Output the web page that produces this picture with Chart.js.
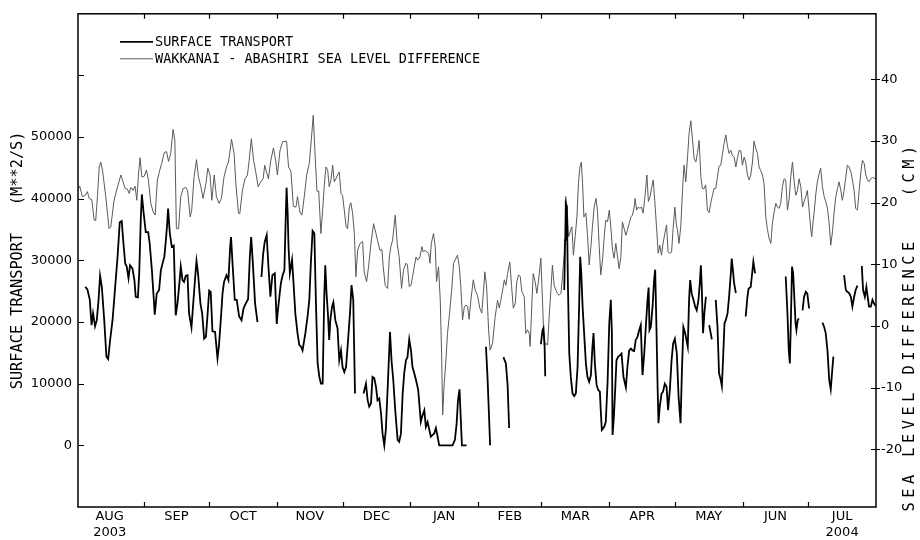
<!DOCTYPE html>
<html><head><meta charset="utf-8">
<script src="https://cdn.jsdelivr.net/npm/chart.js@4/dist/chart.umd.min.js"></script>
<style>html,body{margin:0;padding:0;background:#fff}#wrap{position:relative;width:920px;height:540px}</style>
</head><body><div id="wrap"><canvas id="c"></canvas></div>
<script>
// ---- data (day 0 = 1 Aug 2003) ----
const transportDays = [4.3,5.3,6.4,7.2,7.9,8.8,9.6,10.4,11.1,11.9,13.0,14.0,14.8,15.7,16.8,18.0,19.1,20.1,21.0,21.8,22.6,23.3,24.1,24.8,25.9,26.8,27.4,28.4,29.0,29.7,30.2,30.9,32.0,33.1,33.8,34.8,35.5,36.1,37.0,38.1,38.9,39.6,40.5,41.2,41.8,42.2,43.0,43.9,44.8,45.7,46.5,47.3,48.0,48.8,49.5,50.3,51.1,51.8,52.9,53.7,54.6,55.2,55.9,57.0,57.8,58.7,59.5,60.2,61.0,61.7,62.5,63.7,64.8,65.5,66.3,67.1,67.8,68.9,69.8,70.6,71.0,71.6,72.7,73.6,74.7,75.8,76.7,77.7,78.8,79.6,80.2,80.9,82.0,83.1,
 84.0,
 84.9,85.7,86.4,87.3,88.1,89.0,89.9,91.0,91.9,92.3,93.1,93.8,94.6,95.4,96.1,96.4,96.9,97.3,97.9,98.4,98.9,99.5,100.4,101.4,102.2,103.0,103.7,105.0,106.0,106.8,107.5,108.3,109.1,109.8,110.6,111.4,112.1,112.9,113.6,114.1,114.7,115.3,115.9,116.4,117.2,117.8,118.7,119.7,120.5,121.3,122.0,122.8,123.6,124.3,125.4,126.1,126.9,127.7,
 129.5,
 131.6,132.7,133.5,134.2,135.0,135.7,136.5,137.3,138.0,138.8,139.6,140.3,141.1,141.8,142.8,143.7,144.4,145.2,146.1,147.2,147.9,148.7,149.5,150.2,151.0,151.7,152.5,153.3,154.0,154.8,155.6,156.6,157.8,158.6,159.4,160.1,160.9,161.7,162.4,163.2,163.9,164.7,165.5,166.2,167.3,168.3,169.3,170.3,171.3,172.3,173.4,174.2,174.8,175.5,176.1,176.6,177.6,178.7,
 183.0,
 187.6,188.3,188.9,189.5,
 192.0,
 195.6,196.7,197.5,198.2,
 205.0,
 212.7,213.5,213.9,214.4,214.7,
 219.0,
 223.4,223.8,224.1,224.6,225.1,225.7,226.4,227.2,228.0,228.7,229.5,230.2,230.7,231.2,231.8,232.5,233.3,234.0,234.8,235.6,236.3,236.8,237.4,238.2,238.9,239.7,240.1,240.6,241.7,242.4,243.2,244.0,244.7,245.2,245.5,246.1,246.7,247.3,248.1,248.8,249.6,250.5,251.6,252.3,253.1,253.9,254.6,255.4,256.1,256.9,257.7,258.4,259.2,260.0,260.7,261.5,262.0,262.4,263.0,263.8,264.5,265.0,265.6,266.1,266.5,267.1,267.9,268.6,269.4,270.2,270.9,271.7,272.5,273.2,274.0,274.9,275.7,276.6,277.2,277.9,278.7,279.3,279.9,280.5,281.0,281.7,282.5,283.3,284.0,284.8,285.4,285.9,286.3,286.9,287.5,288.2,
 289.0,
 289.7,290.4,290.9,
 291.8,
 292.7,293.5,294.2,295.0,295.5,296.1,296.7,297.3,298.1,298.8,299.6,300.0,300.7,301.1,301.9,
 304.0,
 306.4,307.2,307.7,308.7,309.5,309.9,310.7,
 318.0,
 324.7,325.5,326.1,326.6,327.0,327.6,328.1,328.7,329.2,329.6,330.2,330.7,
 331.5,
 332.4,333.1,333.9,334.6,335.4,
 338.0,
 341.5,342.3,343.0,343.8,344.6,345.3,346.1,346.5,
 349.0,
 351.4,352.2,352.9,353.7,354.5,355.2,356.0,356.7,357.5,
 358.5,
 359.5,360.1,360.9,361.6,362.2,362.8,363.6,364.4,365.1,365.9];
const transportValues = [25700,25300,23600,19500,21400,19300,20300,23600,27500,25700,20300,14400,14000,17100,20300,25700,30600,36200,36400,32700,29500,29000,27100,29200,28700,26800,24100,24000,27900,36500,40700,38100,34600,34600,32700,28400,24600,21200,24600,25200,28400,29400,30600,33300,36000,38400,34400,32200,32400,21100,23000,26000,29000,26800,26500,27500,27600,21400,19100,23000,27300,29900,27900,23000,21400,17300,17600,20900,25100,24900,18500,18400,14100,16300,20300,24600,26500,27600,26800,32200,33800,30000,23600,23600,20900,20300,22200,23000,23700,30600,33800,30000,23000,20000,
 null,
 27300,31100,33000,34100,29000,24100,27600,27900,19700,21400,24100,26300,27600,28400,38100,41800,37600,32200,27900,29000,30100,26800,21400,18200,16300,16000,15400,18200,20900,23600,29500,34800,34400,23600,13300,11100,10000,10000,23600,29200,24600,21400,17100,20300,22500,23200,20300,19000,13800,15400,12700,11900,12700,16000,21400,26000,23600,8400,
 null,
 8400,10000,7300,6300,6800,11100,10900,9500,7300,7600,5200,1900,0,2500,10600,18400,13800,10600,5700,900,600,1900,8400,11700,13800,14300,17200,15400,12700,11700,10600,9000,3800,4900,5700,3000,3800,2500,1400,1700,1900,2800,1400,0,0,0,0,0,0,0,900,3600,7300,9100,4100,0,0,0,
 null,
 16000,11100,5700,0,
 null,
 14300,13300,9800,2800,
 null,
 16400,18700,19000,16500,11200,
 null,
 25200,33300,39200,38700,25700,14900,11100,8400,8000,8400,12700,22500,30600,27900,22500,18200,13300,11100,10300,11400,16000,18200,13300,9800,9000,8700,5700,2500,3000,3800,10000,19800,23600,18200,1700,4600,9000,13800,14400,14600,14900,11100,9400,12700,15400,15700,15400,15300,17100,17600,18700,19500,11400,14900,19200,23600,25600,18700,19200,22500,26800,28500,18700,9500,3600,6300,8400,8700,10000,9500,5700,9000,13800,16500,17300,14900,7900,3600,11700,19200,18200,17100,16000,23600,26800,24600,23600,22500,21900,23600,26300,29200,25700,18200,21400,24100,
 null,
 19500,18200,17200,
 null,
 23600,19200,11700,10600,9600,14400,19800,20300,21400,24100,27900,30300,27900,26300,24700,
 null,
 20900,24100,25400,25700,28400,29800,27900,
 null,
 27400,21400,15400,13300,19200,29000,27900,23600,19800,18700,20300,20600,
 null,
 21900,24100,24900,24600,22200,
 null,
 19900,19200,18200,15400,10600,9100,12700,14400,
 null,
 27600,25200,24900,24700,24100,22500,24100,25200,25900,
 null,
 29100,25200,24100,25700,24100,22500,22500,23600,23000,22600];

const seaDays = [0.8,1.8,3.0,4.3,5.3,6.1,7.3,8.4,9.1,9.9,10.7,11.4,12.2,13.7,15.2,16.0,17.5,19.1,20.6,21.3,22.6,23.6,24.4,25.2,26.2,27.1,27.9,28.7,29.4,30.2,31.3,32.3,33.2,34.3,35.4,36.3,37.3,38.4,39.3,40.4,41.5,42.4,43.4,44.5,45.3,46.0,47.0,48.0,49.1,50.3,51.1,52.3,53.0,54.1,55.2,56.1,57.2,58.2,59.5,60.4,61.4,62.2,63.3,64.3,65.5,66.6,67.8,68.9,69.8,70.4,71.2,72.4,73.2,74.4,75.0,76.2,77.4,78.5,79.3,80.3,81.3,82.3,83.4,84.6,85.7,86.4,87.2,88.1,89.2,90.4,91.5,92.2,93.4,94.6,96.4,97.3,98.4,99.5,100.7,101.4,102.5,103.4,104.5,105.6,106.8,107.7,108.6,109.5,110.3,111.1,112.1,112.9,113.6,114.4,115.2,115.9,116.7,117.5,118.2,119.0,119.7,120.5,121.3,122.0,122.8,123.6,124.3,125.1,125.8,126.6,127.4,128.1,128.9,130.0,131.2,131.9,133.0,133.9,135.0,136.2,137.3,138.0,139.1,140.0,140.6,141.5,142.6,143.4,144.1,144.9,146.1,147.0,147.9,149.0,149.9,151.0,151.7,152.5,153.3,154.0,154.8,155.6,156.3,157.4,158.3,158.9,159.7,160.6,161.4,162.0,162.6,163.6,164.4,165.0,165.9,166.7,167.3,167.8,168.5,169.3,170.0,170.8,171.9,172.8,173.9,174.6,175.4,176.1,176.9,177.7,178.4,179.2,179.9,180.7,181.8,182.7,183.7,184.8,185.7,186.5,187.1,187.9,188.8,189.5,190.6,191.8,192.9,193.7,194.4,195.2,196.0,196.7,197.5,198.5,199.3,200.1,201.0,201.7,202.5,203.3,204.0,205.1,205.8,206.6,207.4,207.8,208.6,209.2,210.1,210.9,212.0,212.7,213.5,214.2,215.0,215.8,216.5,217.3,218.0,218.8,219.6,220.3,221.1,221.9,222.6,223.4,224.1,224.7,225.4,226.1,226.9,227.6,228.4,229.2,229.9,230.5,231.2,231.8,232.4,233.3,234.0,234.8,235.6,236.3,237.1,237.9,238.6,239.4,240.1,240.9,241.7,242.4,243.2,244.0,244.7,245.5,246.2,247.0,247.8,248.5,249.3,250.0,250.8,251.6,252.3,253.1,253.9,254.6,255.4,255.8,256.5,257.2,258.0,258.7,259.5,260.3,261.2,261.9,262.7,263.3,264.1,264.8,265.6,266.4,267.1,267.9,268.6,269.4,270.2,270.9,271.7,272.5,273.2,274.0,274.7,275.2,275.9,276.7,277.5,278.2,279.0,279.8,280.5,281.3,282.1,282.8,283.6,284.3,285.1,285.9,286.6,287.4,288.1,288.9,289.7,290.4,291.2,291.9,292.7,293.5,294.2,295.0,295.8,296.5,297.3,298.1,298.8,299.6,300.3,301.1,301.9,302.6,303.4,304.2,304.9,305.7,306.4,307.2,308.0,308.7,309.5,310.2,311.0,311.8,312.5,313.3,314.1,314.8,315.6,316.3,317.1,317.9,318.6,319.4,320.2,320.9,321.7,322.4,323.2,324.0,324.7,325.5,326.3,327.0,327.8,328.5,329.3,330.1,330.8,331.6,332.4,333.1,333.9,334.6,335.4,336.2,336.6,337.2,337.8,338.5,339.2,340.0,340.7,341.5,342.3,343.0,343.8,344.6,345.3,346.1,346.8,347.6,348.4,349.1,349.9,350.6,351.4,352.2,352.9,353.7,354.5,355.2,356.0,356.7,357.5,358.3,359.0,359.8,360.6,361.3,362.1,362.8,363.6,364.4,365.1,365.9];
const seaValues = [22.0,22.7,21.0,21.2,21.8,20.7,20.5,17.2,17.1,21.0,25.8,26.6,25.3,21.0,15.8,16.1,20.4,22.6,24.5,23.7,22.3,22.2,21.5,22.5,22.0,22.7,20.4,24.7,27.3,24.2,24.3,25.3,23.7,19.9,18.5,18.0,23.7,25.3,26.4,28.1,28.3,26.7,28.0,31.9,30.1,15.8,15.8,21.0,22.3,22.5,22.0,17.7,18.8,24.2,27.0,24.2,22.6,20.7,23.1,25.6,24.5,20.4,24.5,21.0,19.9,20.7,24.2,25.8,26.6,28.0,30.3,28.0,23.1,18.3,18.2,22.0,23.9,24.5,26.9,30.4,26.9,25.0,22.6,23.4,23.9,26.1,25.0,23.9,26.9,28.9,26.6,24.5,28.5,29.9,30.0,25.8,25.1,19.4,19.3,21.0,18.5,18.0,21.0,24.5,26.4,30.1,34.2,27.4,21.9,21.9,15.0,18.8,22.6,25.8,25.3,22.6,23.7,26.1,23.4,23.9,24.5,25.0,21.5,21.2,18.8,16.2,15.8,19.3,20.0,18.3,15.0,8.0,12.3,13.4,13.7,8.8,7.2,9.6,13.4,16.6,15.0,13.9,12.3,12.4,9.6,6.6,6.1,11.2,12.9,13.9,18.0,13.4,11.2,6.1,9.1,10.2,9.9,6.4,6.6,8.0,9.6,11.2,10.7,11.2,12.9,12.0,12.3,12.0,11.8,10.2,13.4,15.0,12.9,7.2,9.6,4.2,-4.4,-14.4,-9.3,-5.5,-1.2,1.5,5.8,10.2,11.0,11.5,9.6,6.4,1.0,3.1,3.4,3.2,1.1,4.2,7.5,5.8,5.0,2.9,2.1,5.8,8.8,6.4,-0.6,-3.9,-2.8,1.5,4.2,2.9,4.2,5.8,7.5,6.6,8.5,10.4,6.6,2.9,3.7,7.2,8.3,8.0,5.6,4.8,-1.2,-0.6,-1.2,-3.3,3.7,8.5,7.2,5.3,8.5,11.0,3.7,-3.1,-2.8,-3.1,1.5,5.8,9.9,6.6,5.8,5.3,5.0,5.3,8.0,11.8,21.0,19.3,14.5,15.3,16.1,11.5,14.5,17.7,23.1,25.6,26.6,23.1,17.7,18.3,15.0,9.9,12.9,16.1,19.3,20.7,18.8,12.9,8.3,10.7,14.5,17.2,16.9,18.8,16.1,12.3,11.0,13.4,11.2,9.3,11.2,16.9,15.8,14.7,15.6,16.6,17.7,18.0,19.3,20.7,18.8,19.3,19.1,19.3,18.3,21.0,24.5,20.2,21.0,22.3,23.7,20.4,16.1,11.8,13.1,11.5,13.4,15.0,16.4,12.0,11.8,12.0,15.8,19.3,16.4,15.6,13.4,16.1,22.0,26.1,23.4,27.4,31.2,33.3,30.1,27.2,26.6,28.0,30.1,24.2,22.3,22.3,22.9,18.8,18.4,19.9,21.2,22.3,22.3,24.2,25.9,26.1,28.0,29.6,31.0,29.1,28.0,28.5,27.7,27.4,25.8,27.2,28.5,28.4,26.1,27.4,26.6,24.5,23.7,24.5,26.6,30.0,28.8,28.0,25.8,25.2,24.5,23.1,17.7,15.8,14.2,13.4,16.6,18.5,19.9,19.3,19.1,19.9,22.6,23.9,23.7,18.8,20.7,24.2,26.6,23.7,21.2,22.0,23.9,22.6,19.3,20.2,21.0,22.0,18.8,15.6,14.5,16.9,18.8,21.5,23.4,24.7,25.6,22.6,21.0,20.2,19.1,16.6,13.1,15.3,18.3,21.0,22.3,23.4,22.0,20.4,22.0,24.2,26.1,25.8,25.0,23.7,22.0,19.1,18.8,22.0,24.7,26.9,26.4,24.5,23.7,23.4,23.9,24.1,24.0,23.9];

const monthStartDays = [31,61,92,122,153,184,213,244,274,305,335];
const monthMidDays = [15.5,46,76.5,107,137.5,168.5,198.5,228.5,259,289.5,320,350.5];
const monthLabels = ['AUG','SEP','OCT','NOV','DEC','JAN','FEB','MAR','APR','MAY','JUN','JUL'];
const yearLabels = ['2003','','','','','','','','','','','2004'];
const leftTicks = [0,10000,20000,30000,40000,50000,60000];
const leftTickLabels = ['0','10000','20000','30000','40000','50000',''];
const rightTicks = [-20,-10,0,10,20,30,40];
const seriesLabels = ['SURFACE TRANSPORT','WAKKANAI - ABASHIRI SEA LEVEL DIFFERENCE'];
const leftTitle = 'SURFACE TRANSPORT   (M**2/S)';
const rightTitle = 'SEA LEVEL DIFFERENCE   (CM)';

const tickFont = {family: 'DejaVu Sans', size: 13};
const monoFamily = '"DejaVu Sans Mono", "Liberation Mono", monospace';

const framePlugin = {
  id: 'frame',
  afterDraw(chart) {
    const {ctx, chartArea: {left, right, top, bottom}, scales: {x, y, y2}} = chart;
    ctx.save();
    ctx.strokeStyle = '#000';
    ctx.lineWidth = 1.5;
    ctx.strokeRect(left, top, right - left, bottom - top);
    ctx.lineWidth = 1.2;
    ctx.beginPath();
    monthStartDays.forEach(d => {
      const px = Math.round(x.getPixelForValue(d)) + 0.5;
      ctx.moveTo(px, bottom); ctx.lineTo(px, bottom - 5);
      ctx.moveTo(px, top); ctx.lineTo(px, top + 5);
    });
    y.ticks.forEach(t => {
      const py = Math.round(y.getPixelForValue(t.value)) + 0.5;
      ctx.moveTo(left, py); ctx.lineTo(left + 6, py);
    });
    y2.ticks.forEach(t => {
      const py = Math.round(y2.getPixelForValue(t.value)) + 0.5;
      ctx.moveTo(right - 5, py); ctx.lineTo(right + 4, py);
    });
    ctx.stroke();

    // legend inside plot
    ctx.font = '13.5px ' + monoFamily;
    ctx.textBaseline = 'middle';
    ctx.textAlign = 'left';
    ctx.fillStyle = '#000';
    chart.data.datasets.forEach(ds => {
      const ly = top + 28 + ds.legendIndex * 17;
      ctx.strokeStyle = ds.borderColor;
      ctx.lineWidth = ds.borderWidth;
      ctx.beginPath();
      ctx.moveTo(left + 42, ly); ctx.lineTo(left + 75, ly);
      ctx.stroke();
      ctx.fillText(ds.label, left + 77, ly + 1);
    });

    // right axis title
    const t = chart.options.scales.y2.title;
    ctx.translate(right + 34, (top + bottom) / 2 + 66);
    ctx.rotate(-Math.PI / 2);
    ctx.font = '15.3px ' + monoFamily;
    ctx.textAlign = 'center';
    ctx.textBaseline = 'middle';
    if ('letterSpacing' in ctx) ctx.letterSpacing = '4.5px';
    ctx.fillText(t.text, 0, 0);
    ctx.restore();
  }
};

new Chart(document.getElementById('c'), {
  type: 'line',
  data: {
    datasets: [
      {
        label: seriesLabels[1], legendIndex: 1, yAxisID: 'y2',
        data: seaDays.map((d, i) => ({x: d, y: seaValues[i]})),
        borderColor: '#5a5a5a', borderWidth: 1, pointRadius: 0, tension: 0, order: 2
      },
      {
        label: seriesLabels[0], legendIndex: 0, yAxisID: 'y',
        data: transportDays.map((d, i) => ({x: d, y: transportValues[i]})),
        borderColor: '#000', borderWidth: 1.8, pointRadius: 0, tension: 0, order: 1,
        spanGaps: false
      }
    ]
  },
  options: {
    responsive: true, maintainAspectRatio: false, animation: false, devicePixelRatio: 1,
    layout: {padding: {top: 13, left: 0, right: 0, bottom: 0}},
    plugins: {legend: {display: false}, tooltip: {enabled: false}},
    scales: {
      x: {
        type: 'linear', position: 'bottom', min: 1, max: 366,
        grid: {display: false, drawTicks: false}, border: {display: false},
        afterBuildTicks: s => { s.ticks = monthMidDays.map(v => ({value: v})); },
        afterFit: s => { s.height = 33; },
        ticks: {
          autoSkip: false, maxRotation: 0, minRotation: 0, padding: 2,
          color: '#000', font: tickFont,
          callback: (v, i) => yearLabels[i] ? [monthLabels[i], yearLabels[i]] : monthLabels[i]
        }
      },
      y: {
        type: 'linear', position: 'left', min: -10000, max: 70000,
        grid: {display: false, drawTicks: false}, border: {display: false},
        afterBuildTicks: s => { s.ticks = leftTicks.map(v => ({value: v})); },
        afterFit: s => { s.width = 78; },
        ticks: {padding: 6, color: '#000', font: tickFont, callback: (v, i) => leftTickLabels[i]},
        title: {display: true, text: leftTitle, color: '#000', font: {family: monoFamily, size: 15.3}, padding: {top: 9, bottom: 0}}
      },
      y2: {
        type: 'linear', position: 'right', min: -29.35, max: 50.65,
        grid: {display: false, drawTicks: false}, border: {display: false},
        afterBuildTicks: s => { s.ticks = rightTicks.map(v => ({value: v})); },
        afterFit: s => { s.width = 44; },
        ticks: {padding: 5, color: '#000', font: tickFont, callback: v => String(v)},
        title: {display: false, text: rightTitle}
      }
    }
  },
  plugins: [framePlugin]
});
</script>
</body></html>
